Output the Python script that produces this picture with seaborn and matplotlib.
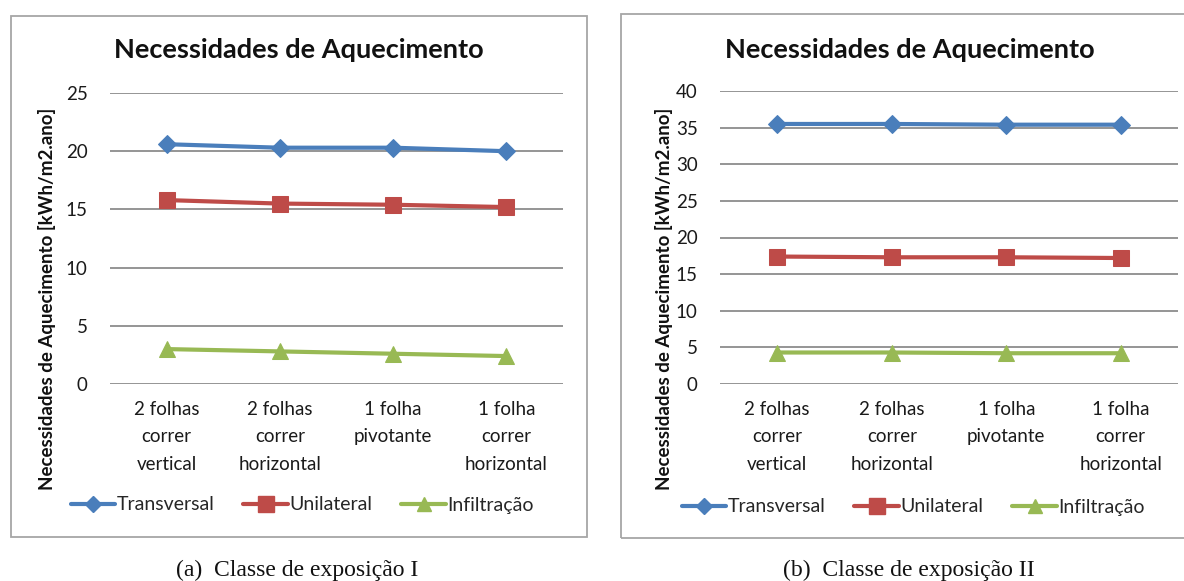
import matplotlib
matplotlib.use("Agg")
import matplotlib.pyplot as plt
from matplotlib.patches import Rectangle
from matplotlib.lines import Line2D
import pandas as pd
import seaborn as sns

# Window types (x categories)
categorias = ["2 folhas\ncorrer\nvertical", "2 folhas\ncorrer\nhorizontal",
              "1 folha\npivotante", "1 folha\ncorrer\nhorizontal"]
series = ["Transversal", "Unilateral", "Infiltração"]

# Heating needs [kWh/m2.ano], exposure class I
transversal_I = [20.6, 20.3, 20.3, 20.0]
unilateral_I = [15.8, 15.5, 15.4, 15.2]
infiltracao_I = [3.0, 2.8, 2.6, 2.4]

# Heating needs [kWh/m2.ano], exposure class II
transversal_II = [35.5, 35.5, 35.4, 35.4]
unilateral_II = [17.4, 17.3, 17.3, 17.2]
infiltracao_II = [4.3, 4.3, 4.2, 4.2]

titulo = "Necessidades de Aquecimento"
ylabel = "Necessidades de Aquecimento [kWh/m2.ano]"
legendas = ["(a)  Classe de exposição I", "(b)  Classe de exposição II"]

cores = {"Transversal": "#4a7ebb", "Unilateral": "#be4b48", "Infiltração": "#98b954"}
marcadores = {"Transversal": "D", "Unilateral": "s", "Infiltração": "^"}
tamanhos = {"Transversal": 9, "Unilateral": 12, "Infiltração": 11}

sns.set_theme(style="white")
plt.rcParams["font.family"] = ["Lato", "DejaVu Sans"]

W, H = 1184, 581
fig = plt.figure(figsize=(W / 100, H / 100), dpi=100)


def frame(x0, y0, x1, y1):
    # pixel box (top-left origin) -> figure rectangle
    fig.patches.append(Rectangle((x0 / W, 1 - y1 / H), (x1 - x0) / W, (y1 - y0) / H,
                                 transform=fig.transFigure, fill=False,
                                 edgecolor="#a6a6a6", linewidth=1.3))


def painel(px0, px1, py_top, py_bot, dados, ymax, box, tx, ylx, legx, legy, cap_x, cap):
    frame(*box)
    ax = fig.add_axes([px0 / W, 1 - py_bot / H, (px1 - px0) / W, (py_bot - py_top) / H])
    df = pd.DataFrame({
        "x": list(range(len(categorias))) * len(series),
        "valor": [v for s in series for v in dados[s]],
        "serie": [s for s in series for _ in categorias],
    })
    for s in series:
        sub = df[df["serie"] == s]
        sns.lineplot(data=sub, x="x", y="valor", ax=ax, color=cores[s],
                     marker=marcadores[s], markersize=tamanhos[s],
                     markeredgecolor=cores[s], linewidth=3, legend=False)
    ax.set_xlim(-0.5, len(categorias) - 0.5)
    ax.set_ylim(0, ymax)
    ax.set_yticks(range(0, ymax + 1, 5))
    ax.yaxis.grid(True, color="#8c8c8c", linewidth=1.3)
    ax.set_axisbelow(True)
    for sp in ax.spines.values():
        sp.set_visible(False)
    ax.set_xticks(range(len(categorias)))
    ax.set_xticklabels(categorias, fontsize=13.5, color="#1a1a1a", linespacing=1.75)
    ax.tick_params(axis="y", labelsize=13.5, labelcolor="#1a1a1a", pad=16, length=0)
    ax.tick_params(axis="x", pad=12, length=0)
    ax.set_xlabel("")
    ax.set_ylabel("")
    fig.text(tx / W, 1 - 50 / H, titulo, ha="center", va="center",
             fontsize=19.5, fontweight="bold", color="#111111")
    fig.text(ylx / W, 1 - 299 / H, ylabel, rotation=90,
             ha="center", va="center", fontsize=13.5, fontweight="bold", color="#111111")
    handles = [Line2D([0], [0], color=cores[s], marker=marcadores[s], markersize=tamanhos[s] - 1,
                      linewidth=3) for s in series]
    fig.legend(handles, series, loc="center", bbox_to_anchor=(legx / W, 1 - legy / H),
               ncol=3, frameon=False, fontsize=14, handlelength=2.3, handletextpad=0.05,
               columnspacing=1.5)
    fig.text(cap_x / W, 1 - 570 / H, cap, ha="center", va="center",
             fontsize=17, family=["Liberation Serif"], color="#111111")
    return ax


painel(110, 563, 93, 384,
       {"Transversal": transversal_I, "Unilateral": unilateral_I, "Infiltração": infiltracao_I},
       25, (11, 16, 587, 537), 299, 47, 302, 505, 297, legendas[0])
painel(720, 1178, 91, 384,
       {"Transversal": transversal_II, "Unilateral": unilateral_II, "Infiltração": infiltracao_II},
       40, (621, 14, 1196, 538), 910, 664, 913, 507, 909, legendas[1])

fig.savefig("out.png", dpi=100)
